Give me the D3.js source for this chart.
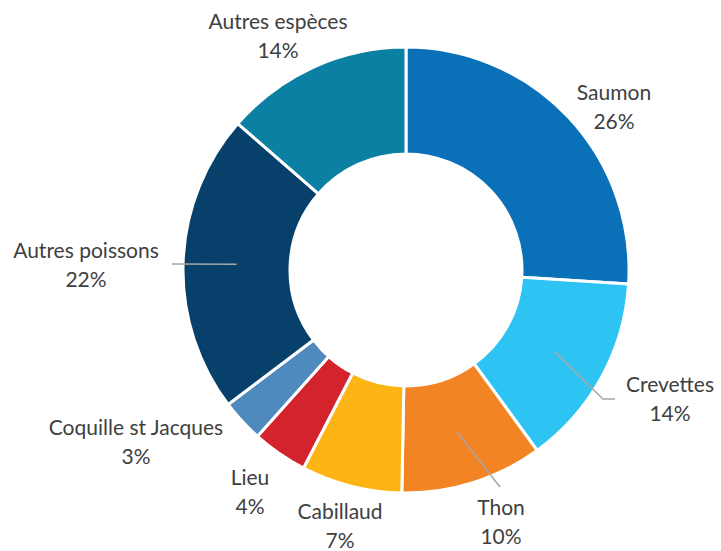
<!DOCTYPE html>
<html>
<head>
<meta charset="utf-8">
<script src="https://cdn.jsdelivr.net/npm/d3@7"></script>
<style>
  body { margin: 0; background: #fff; }
  text { font-family: Lato, "Open Sans", sans-serif; fill: #404040; font-size: 21px; }
</style>
</head>
<body>
<svg width="721" height="551"></svg>
<script>
// données (parts en %)
var categories = ["Saumon", "Crevettes", "Thon", "Cabillaud", "Lieu", "Coquille st Jacques", "Autres poissons", "Autres espèces"];
var values = [26.0, 14.0, 10.3, 7.3, 4.0, 3.1, 21.7, 13.6];
var pctLabels = ["26%", "14%", "10%", "7%", "4%", "3%", "22%", "14%"];
var colors = ["#0a70b8", "#2dc4f3", "#f28424", "#fdb515", "#d3232c", "#4f8abf", "#07416b", "#0c80a3"];

// position des étiquettes (relative au centre)
var labelPos = [[208, -177], [264, 115], [95, 238], [-66, 242], [-156, 208], [-270, 158], [-320, -19], [-128, -248]];
// lignes de rappel : index -> point d'arrivée relatif au centre
var leaders = {1: [[197, 129], [209, 129]], 2: [[94, 217]], 6: [[-234, -6]]};

var cx = 406, cy = 270;
var rOuter = 223, rInner = 116;

var svg = d3.select("svg");
var g = svg.append("g").attr("transform", "translate(" + cx + "," + cy + ")");

var pie = d3.pie().sort(null).value(function(d) { return d; });
var arc = d3.arc().innerRadius(rInner).outerRadius(rOuter);
var arcs = pie(values);

g.selectAll("path.slice")
  .data(arcs)
  .enter().append("path")
  .attr("class", "slice")
  .attr("d", arc)
  .attr("fill", function(d, i) { return colors[i]; })
  .attr("stroke", "#fff")
  .attr("stroke-width", 3)
  .attr("stroke-linejoin", "round");

// lignes de rappel depuis le centroïde
arcs.forEach(function(d, i) {
  if (!leaders[i]) return;
  var c = arc.centroid(d);
  var pts = [c].concat(leaders[i]);
  g.append("path")
    .attr("d", d3.line()(pts))
    .attr("fill", "none")
    .attr("stroke", "#a6a6a6")
    .attr("stroke-width", 1.5);
});

var lab = g.selectAll("text.lab")
  .data(arcs)
  .enter().append("text")
  .attr("class", "lab")
  .attr("text-anchor", "middle")
  .attr("transform", function(d, i) { return "translate(" + labelPos[i][0] + "," + labelPos[i][1] + ")"; });

lab.append("tspan").attr("x", 0).attr("dy", "0.35em").text(function(d, i) { return categories[i]; });
lab.append("tspan").attr("x", 0).attr("dy", 29).text(function(d, i) { return pctLabels[i]; });
</script>
</body>
</html>
